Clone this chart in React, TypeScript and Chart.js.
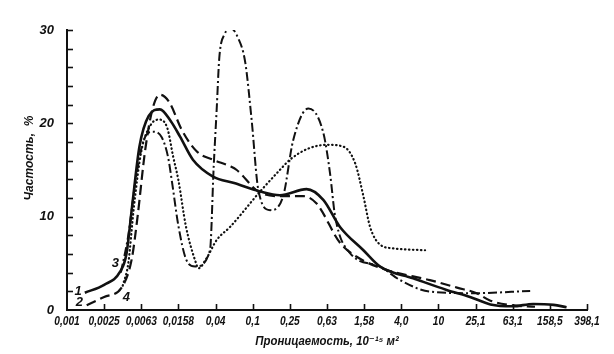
import React, { useEffect, useRef } from "react";
import { Chart, registerables } from "chart.js";

Chart.register(...registerables);

// X categories (log-spaced permeability classes, 10^-15 m^2)
const xTickLabels = ["0,001", "0,0025", "0,0063", "0,0158", "0,04", "0,1", "0,25", "0,63", "1,58", "4,0", "10", "25,1", "63,1", "158,5", "398,1"];
const yTickValues = [0, 2, 4, 6, 8, 10, 12, 14, 16, 18, 20, 22, 24, 26, 28, 30];
const yLabelValues = [0, 10, 20, 30];

// x = position on the class axis (index of tick label), y = frequency %
const curve1X = [0.48, 1.0, 1.43, 1.6, 1.75, 1.95, 2.2, 2.5, 2.8, 3.04, 3.39, 3.93, 4.5, 5.2, 5.73, 6.45, 6.9, 7.35, 7.98, 8.43, 9.32, 10.22, 10.85, 11.4, 12.0, 12.55, 13.1, 13.45];
const curve1Y = [1.85, 2.7, 4.1, 6.0, 11.0, 17.5, 20.8, 21.5, 20.2, 18.6, 16.1, 14.3, 13.6, 12.7, 12.3, 12.95, 11.8, 8.9, 6.4, 4.65, 3.4, 2.15, 1.4, 0.6, 0.4, 0.65, 0.55, 0.3];

const curve2X = [0.53, 1.0, 1.47, 1.74, 1.9, 2.1, 2.3, 2.5, 2.75, 3.09, 3.49, 3.93, 4.39, 4.57, 5.15, 5.73, 6.36, 6.72, 7.35, 7.8, 8.6, 9.77, 10.5, 11.03, 11.4, 12.0, 12.6];
const curve2Y = [0.5, 1.4, 2.4, 5.4, 10.0, 17.0, 21.5, 23.07, 22.3, 19.3, 17.0, 16.1, 15.4, 15.0, 12.7, 12.2, 12.2, 11.4, 7.2, 5.7, 4.3, 3.2, 2.4, 1.8, 1.0, 0.5, 0.35];

const curve3X = [1.45, 1.65, 1.85, 2.05, 2.3, 2.55, 2.72, 2.82, 3.0, 3.2, 3.45, 3.85, 3.95, 4.03, 4.1, 4.25, 4.4, 4.6, 4.8, 4.97, 5.15, 5.47, 5.82, 6.09, 6.5, 6.9, 7.08, 7.22, 7.62, 8.43, 8.97, 9.77, 10.93, 12.47];
const curve3Y = [4.0, 8.0, 14.0, 18.0, 19.1, 18.5, 16.4, 13.9, 9.0, 5.5, 4.65, 6.4, 15.4, 21.5, 27.0, 29.6, 30.2, 29.2, 26.5, 20.4, 12.9, 10.7, 12.2, 18.2, 21.6, 19.0, 14.7, 10.0, 6.1, 4.65, 3.2, 1.97, 1.8, 2.04];

const curve4X = [1.5, 1.65, 1.8, 2.0, 2.25, 2.47, 2.7, 2.86, 3.0, 3.2, 3.45, 3.54, 3.75, 4.03, 4.39, 5.2, 5.73, 6.0, 6.5, 7.0, 7.44, 7.76, 7.98, 8.16, 8.43, 8.79, 9.64];
const curve4Y = [2.6, 5.0, 11.0, 17.0, 19.8, 20.4, 19.5, 16.4, 13.9, 9.0, 5.3, 4.47, 5.5, 7.5, 8.9, 12.7, 15.0, 16.1, 17.3, 17.7, 17.5, 15.7, 12.2, 8.9, 7.0, 6.6, 6.4];

// curve number labels: [text, x, y]
const curveLabels: [string, number, number][] = [
  ["1", 0.3, 2.0],
  ["2", 0.33, 0.85],
  ["3", 1.3, 5.0],
  ["4", 1.6, 1.3],
];

const xTitle = "Проницаемость, 10⁻¹⁵ м²";
const yTitle = "Частость,  %";

const pts = (xs: number[], ys: number[]) => xs.map((x, i) => ({ x, y: ys[i] }));

const FONT = '"Liberation Sans", "DejaVu Sans", sans-serif';

export default function App() {
  const ref = useRef<HTMLCanvasElement | null>(null);

  useEffect(() => {
    const canvas = ref.current;
    if (!canvas) return;

    const decor = {
      id: "decor",
      afterDraw(chart: any) {
        const ctx = chart.ctx as CanvasRenderingContext2D;
        const xs = chart.scales.x;
        const ys = chart.scales.y;
        const area = chart.chartArea;
        ctx.save();
        ctx.strokeStyle = "#111";
        ctx.lineWidth = 1.6;
        // inward x ticks
        xTickLabels.forEach((_, i) => {
          if (i === 0) return;
          const px = Math.round(xs.getPixelForValue(i)) + 0.5;
          ctx.beginPath();
          ctx.moveTo(px, area.bottom);
          ctx.lineTo(px, area.bottom - 6);
          ctx.stroke();
        });
        // inward y ticks
        yTickValues.forEach((v) => {
          if (v === 0) return;
          const py = Math.round(ys.getPixelForValue(v)) + 0.5;
          ctx.beginPath();
          ctx.moveTo(area.left, py);
          ctx.lineTo(area.left + 6, py);
          ctx.stroke();
        });
        ctx.fillStyle = "#111";
        ctx.textAlign = "center";
        ctx.textBaseline = "middle";
        // x tick labels, condensed
        ctx.font = "italic bold 12px " + FONT;
        xTickLabels.forEach((t, i) => {
          const px = xs.getPixelForValue(i);
          ctx.save();
          ctx.translate(px, 322);
          ctx.scale(0.85, 1);
          ctx.fillText(t, 0, 0);
          ctx.restore();
        });
        // curve number labels
        ctx.font = "italic bold 13px " + FONT;
        curveLabels.forEach(([t, x, y]) => {
          ctx.fillText(t, xs.getPixelForValue(x), ys.getPixelForValue(y));
        });
        // axis titles
        ctx.font = "italic bold 12px " + FONT;
        ctx.save();
        ctx.translate((area.left + area.right) / 2, 342);
        ctx.scale(0.95, 1);
        ctx.fillText(xTitle, 0, 0);
        ctx.restore();
        ctx.translate(30, 158);
        ctx.rotate(-Math.PI / 2);
        ctx.fillText(yTitle, 0, 0);
        ctx.restore();
      },
    };

    const common = { fill: false, pointRadius: 0, cubicInterpolationMode: "monotone" as const, borderColor: "#111" };

    const chart = new Chart(canvas, {
      type: "line",
      data: {
        datasets: [
          { ...common, label: "1", data: pts(curve1X, curve1Y), borderWidth: 2.6 },
          { ...common, label: "2", data: pts(curve2X, curve2Y), borderWidth: 2.2, borderDash: [10, 5] },
          { ...common, label: "3", data: pts(curve3X, curve3Y), borderWidth: 2.0, borderDash: [9, 3, 2, 3] },
          { ...common, label: "4", data: pts(curve4X, curve4Y), borderWidth: 2.2, borderDash: [0.5, 3.5], borderCapStyle: "round" },
        ],
      },
      options: {
        animation: false,
        responsive: false,
        parsing: false as any,
        layout: { padding: { left: 0, right: 27, top: 30, bottom: 0 } },
        plugins: { legend: { display: false }, tooltip: { enabled: false } },
        scales: {
          x: {
            type: "linear",
            min: 0,
            max: 14,
            afterFit: (s: any) => { s.height = 44; },
            grid: { display: false },
            border: { display: true, color: "#111", width: 2 },
            ticks: {
              stepSize: 1,
              autoSkip: false,
              maxRotation: 0,
              display: false,
            },
          },
          y: {
            type: "linear",
            min: 0,
            max: 30,
            afterFit: (s: any) => { s.width = 67; },
            grid: { display: false },
            border: { display: true, color: "#111", width: 2 },
            ticks: {
              stepSize: 10,
              padding: 5,
              color: "#111",
              font: { family: FONT, size: 13, style: "italic", weight: "bold" },
              callback: (v: any) => (yLabelValues.includes(Number(v)) ? String(v) : ""),
            },
          },
        },
      },
      plugins: [decor],
    });
    return () => chart.destroy();
  }, []);

  return (
    <div style={{ position: "fixed", left: 0, top: 0, width: 614, height: 354, background: "#fff" }}>
      <canvas ref={ref} width={614} height={354} style={{ width: 614, height: 354 }} />
    </div>
  );
}
